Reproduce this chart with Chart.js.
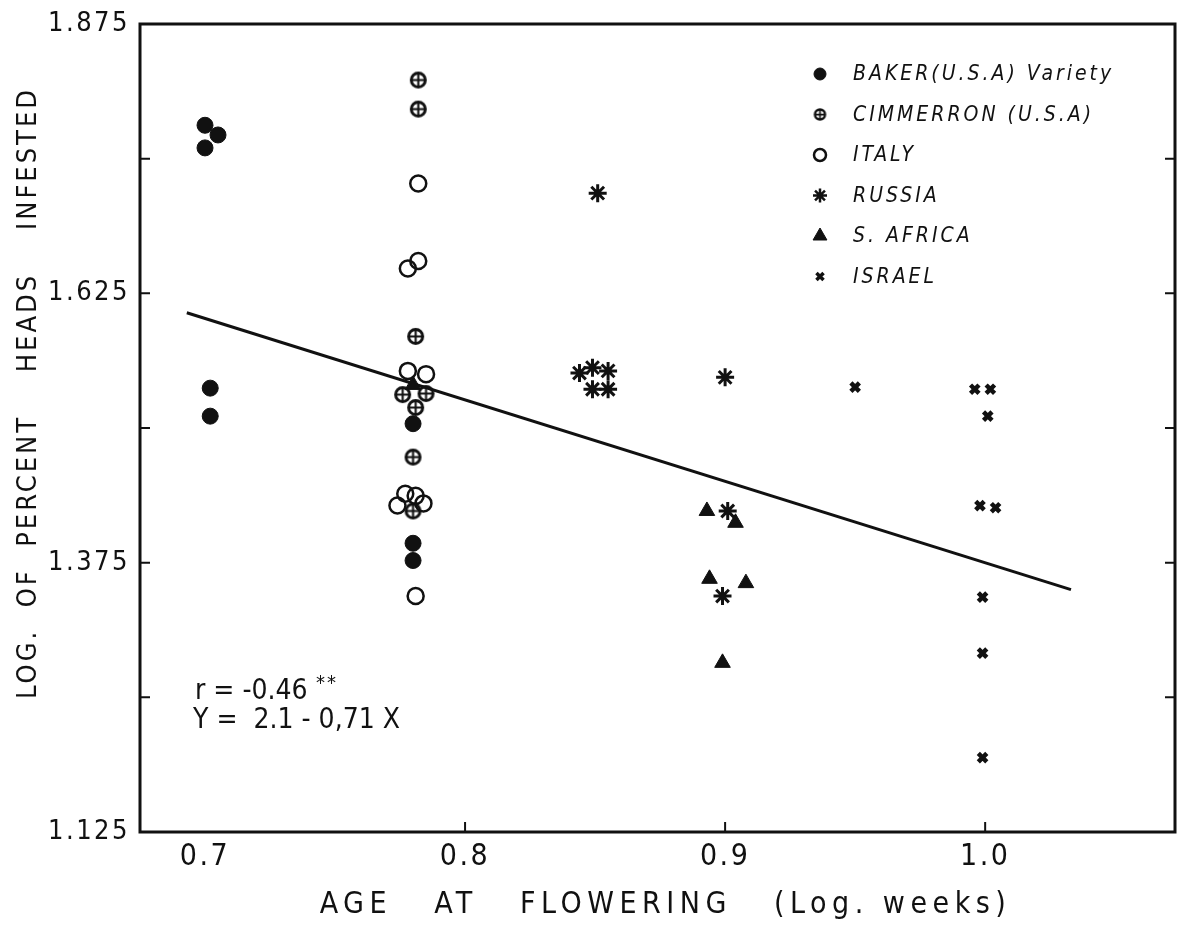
<!DOCTYPE html>
<html>
<head>
<meta charset="utf-8">
<script src="https://cdn.jsdelivr.net/npm/chart.js@4.4.1/dist/chart.umd.min.js"></script>
<style>
  html, body { margin: 0; padding: 0; background: #fff; }
  #chart { display: block; }
</style>
</head>
<body>
<canvas id="chart" width="1179" height="932"></canvas>
<script>
// Data: [log weeks, log % heads infested]
const seriesNames = ['BAKER(U.S.A) Variety', 'CIMMERRON (U.S.A)', 'ITALY', 'RUSSIA', 'S. AFRICA', 'ISRAEL'];

const baker = [[0.700, 1.781], [0.705, 1.772], [0.700, 1.760], [0.702, 1.537], [0.702, 1.511],
               [0.780, 1.504], [0.780, 1.393], [0.780, 1.377]];
const cimmerron = [[0.782, 1.823], [0.782, 1.796], [0.781, 1.585], [0.776, 1.531], [0.785, 1.532],
                   [0.781, 1.519], [0.780, 1.473], [0.780, 1.423]];
const italy = [[0.782, 1.727], [0.782, 1.655], [0.778, 1.648], [0.778, 1.553], [0.785, 1.550],
               [0.777, 1.439], [0.781, 1.437], [0.774, 1.428], [0.784, 1.430], [0.781, 1.344]];
const russia = [[0.851, 1.718], [0.844, 1.551], [0.849, 1.556], [0.855, 1.553], [0.849, 1.536],
                [0.855, 1.536], [0.900, 1.547], [0.901, 1.423], [0.899, 1.344]];
const safrica = [[0.780, 1.540], [0.893, 1.423], [0.904, 1.412], [0.894, 1.360], [0.908, 1.356], [0.899, 1.282]];
const israel = [[0.950, 1.538], [0.996, 1.536], [1.002, 1.536], [1.001, 1.511], [0.998, 1.428],
                [1.004, 1.426], [0.999, 1.343], [0.999, 1.291], [0.999, 1.194]];
const fitLine = [[0.693, 1.607], [1.033, 1.350]];

const xTicks = [0.7, 0.8, 0.9, 1.0];
const yTickLabels = ['1.125', '1.375', '1.625', '1.875'];
const yMinorStep = 0.125;

const INK = '#111';
const FONT = '"DejaVu Sans Condensed", "DejaVu Sans", sans-serif';

function toXY(arr) {
    return arr.map(p => ({ x: p[0], y: p[1] }));
}

// circle with a cross inside, for Cimmerron
function crossCircle(r, lw) {
    const s = Math.ceil(r * 2 + lw + 2);
    const c = document.createElement('canvas');
    c.width = s; c.height = s;
    const g = c.getContext('2d');
    g.strokeStyle = INK;
    g.lineWidth = lw;
    g.beginPath();
    g.arc(s / 2, s / 2, r, 0, Math.PI * 2);
    g.stroke();
    g.lineWidth = lw * 0.7;
    g.beginPath();
    g.moveTo(s / 2 - r, s / 2); g.lineTo(s / 2 + r, s / 2);
    g.moveTo(s / 2, s / 2 - r); g.lineTo(s / 2, s / 2 + r);
    g.stroke();
    return c;
}

const markers = [
    { pointStyle: 'circle', radius: 8, borderWidth: 1, backgroundColor: INK },
    { pointStyle: crossCircle(7, 3), radius: 8, borderWidth: 1, backgroundColor: INK },
    { pointStyle: 'circle', radius: 8, borderWidth: 2.5, backgroundColor: 'rgba(0,0,0,0)' },
    { pointStyle: 'star', radius: 9, borderWidth: 3, backgroundColor: INK },
    { pointStyle: 'triangle', radius: 9, borderWidth: 1, backgroundColor: INK },
    { pointStyle: 'crossRot', radius: 6, borderWidth: 4.5, backgroundColor: INK }
];
const legendMarkers = [
    { pointStyle: 'circle', radius: 6, borderWidth: 1 },
    { pointStyle: crossCircle(5, 2.5), radius: 6, borderWidth: 1 },
    { pointStyle: 'circle', radius: 6, borderWidth: 2.5 },
    { pointStyle: 'star', radius: 7, borderWidth: 2.5 },
    { pointStyle: 'triangle', radius: 8, borderWidth: 1 },
    { pointStyle: 'crossRot', radius: 5, borderWidth: 3.5 }
];

const groups = [baker, cimmerron, italy, russia, safrica, israel];

const datasets = groups.map((g, i) => ({
    label: seriesNames[i],
    data: toXY(g),
    pointStyle: markers[i].pointStyle,
    pointRadius: markers[i].radius,
    pointBorderWidth: markers[i].borderWidth,
    pointBackgroundColor: markers[i].backgroundColor,
    pointBorderColor: INK,
    showLine: false
}));
datasets.push({
    label: 'fit',
    data: toXY(fitLine),
    showLine: true,
    borderColor: INK,
    borderWidth: 3,
    pointRadius: 0
});

// letter spacing for the stencil lettering; axis titles get wider spacing and a small shift
const spacingPlugin = {
    id: 'spacing',
    beforeDraw(chart) {
        chart.ctx.letterSpacing = '2.5px';
        [['x', 8, 0, '5.5px'], ['y', 0, -35, '3px']].forEach(([id, dx, dy, ls]) => {
            const s = chart.scales[id];
            if (s._patched) return;
            const orig = s.drawTitle;
            s.drawTitle = function() {
                const c = this.ctx;
                c.save();
                c.letterSpacing = ls;
                c.translate(dx, dy);
                orig.apply(this, arguments);
                c.restore();
            };
            s._patched = true;
        });
    }
};

// frame and inward ticks
const framePlugin = {
    id: 'frame',
    afterDraw(chart) {
        const { ctx, chartArea: a, scales } = chart;
        ctx.save();
        ctx.strokeStyle = INK;
        ctx.lineWidth = 3;
        ctx.strokeRect(a.left, a.top, a.right - a.left, a.bottom - a.top);
        ctx.lineWidth = 2;
        ctx.beginPath();
        scales.y.ticks.forEach(t => {
            const py = scales.y.getPixelForValue(t.value);
            ctx.moveTo(a.left, py); ctx.lineTo(a.left + 10, py);
            ctx.moveTo(a.right, py); ctx.lineTo(a.right - 10, py);
        });
        scales.x.ticks.forEach(t => {
            if (t.value < 0.75) return;
            const px = scales.x.getPixelForValue(t.value);
            ctx.moveTo(px, a.bottom); ctx.lineTo(px, a.bottom - 10);
        });
        ctx.stroke();
        ctx.restore();
    }
};

// legend block in the upper right of the plot
const legendPlugin = {
    id: 'innerLegend',
    afterDraw(chart) {
        const ctx = chart.ctx;
        const x0 = 820, y0 = 74, rowH = 40.5;
        ctx.save();
        ctx.fillStyle = INK;
        ctx.strokeStyle = INK;
        ctx.font = 'italic 21px ' + FONT;
        ctx.letterSpacing = '3px';
        ctx.textBaseline = 'middle';
        seriesNames.forEach((name, i) => {
            const y = y0 + i * rowH;
            const m = legendMarkers[i];
            ctx.lineWidth = m.borderWidth;
            ctx.fillStyle = i === 2 ? 'rgba(0,0,0,0)' : INK;
            Chart.helpers.drawPoint(ctx, { pointStyle: m.pointStyle, radius: m.radius, borderWidth: m.borderWidth, rotation: 0 }, x0, y);
            ctx.fillStyle = INK;
            ctx.fillText(name, x0 + 33, y + 1);
        });
        ctx.restore();
    }
};

// correlation text lower left
const notePlugin = {
    id: 'note',
    afterDraw(chart) {
        const ctx = chart.ctx;
        ctx.save();
        ctx.fillStyle = INK;
        ctx.letterSpacing = '0px';
        ctx.font = '28px ' + FONT;
        ctx.textBaseline = 'alphabetic';
        ctx.fillText('r = -0.46', 195, 699);
        ctx.font = '20px ' + FONT;
        ctx.letterSpacing = '2px';
        ctx.fillText('**', 316, 689);
        ctx.letterSpacing = '0px';
        ctx.font = '28px ' + FONT;
        ctx.fillText('Y =  2.1 - 0,71 X', 193, 728);
        ctx.restore();
    }
};

new Chart(document.getElementById('chart'), {
    type: 'scatter',
    data: { datasets },
    options: {
        responsive: false,
        animation: false,
        devicePixelRatio: 1,
        layout: { autoPadding: false, padding: { top: 24, right: 4, bottom: 0, left: 0 } },
        plugins: {
            legend: { display: false },
            tooltip: { enabled: false }
        },
        scales: {
            x: {
                type: 'linear',
                min: 0.675,
                max: 1.073,
                afterBuildTicks(scale) {
                    scale.ticks = xTicks.map(v => ({ value: v }));
                },
                afterFit(scale) {
                    scale.height = 100;
                    scale.paddingLeft = 0;
                    scale.paddingRight = 0;
                },
                grid: { display: false, drawTicks: false },
                border: { display: false },
                ticks: {
                    color: INK,
                    padding: 7,
                    font: { family: FONT, size: 30 },
                    callback: v => v.toFixed(1)
                },
                title: {
                    display: true,
                    text: 'AGE   AT   FLOWERING   (Log. weeks)',
                    color: INK,
                    font: { family: FONT, size: 30 },
                    padding: { top: 0, bottom: 9 }
                }
            },
            y: {
                type: 'linear',
                min: 1.125,
                max: 1.875,
                afterFit(scale) {
                    scale.width = 140;
                    scale.paddingTop = 0;
                    scale.paddingBottom = 0;
                },
                grid: { display: false, drawTicks: false },
                border: { display: false },
                ticks: {
                    stepSize: yMinorStep,
                    autoSkip: false,
                    color: INK,
                    padding: 10,
                    font: { family: FONT, size: 27 },
                    callback: v => {
                        const s = v.toFixed(3);
                        return yTickLabels.includes(s) ? s : '';
                    }
                },
                title: {
                    display: true,
                    text: 'LOG.  OF  PERCENT    HEADS    INFESTED',
                    color: INK,
                    font: { family: FONT, size: 27 },
                    padding: { top: 13, bottom: 0 }
                }
            }
        }
    },
    plugins: [spacingPlugin, framePlugin, legendPlugin, notePlugin]
});
</script>
</body>
</html>
